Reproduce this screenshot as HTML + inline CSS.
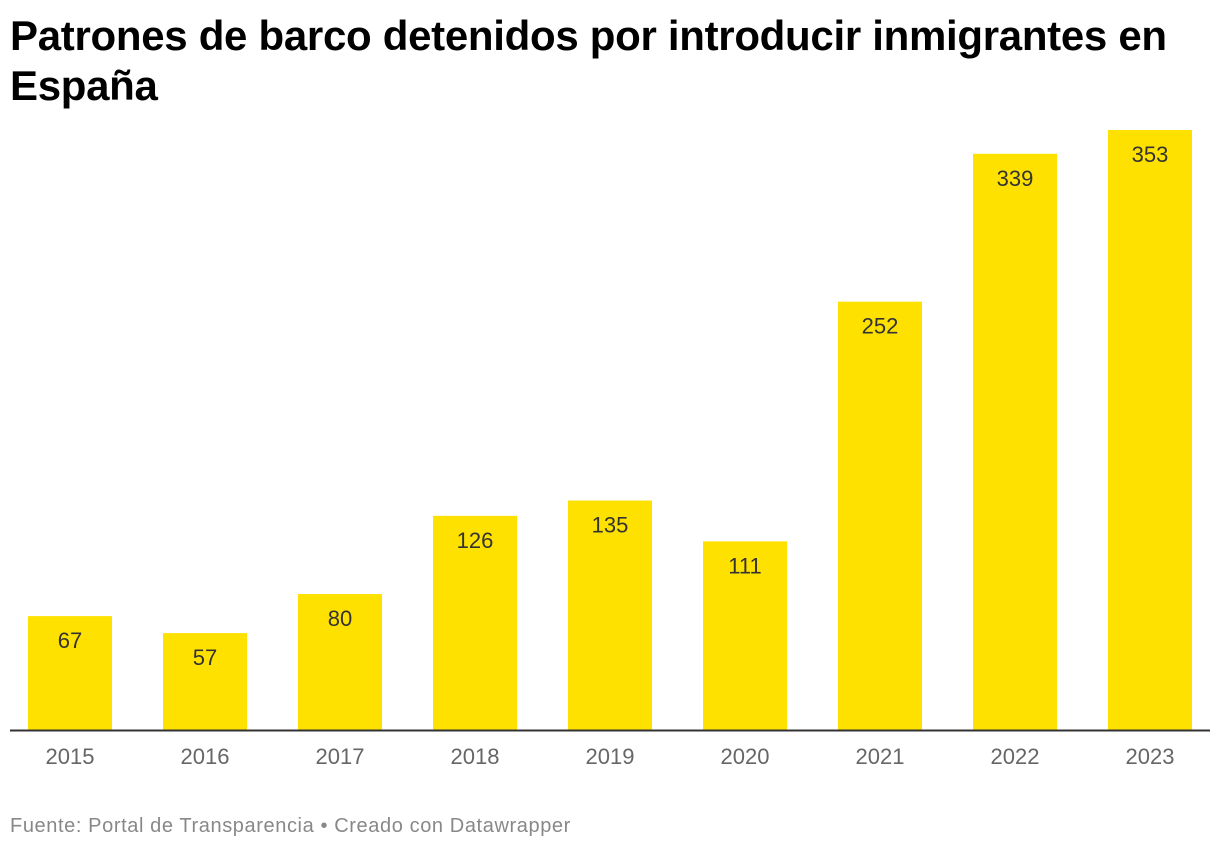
<!DOCTYPE html>
<html><head><meta charset="utf-8"><style>
body{margin:0;width:1220px;height:852px;background:#fff;font-family:"Liberation Sans",Arial,sans-serif;overflow:hidden;position:relative}
#title{position:absolute;left:10px;top:11px;font-size:42px;font-weight:bold;line-height:50px;color:#000;width:1210px;letter-spacing:-0.3px}
#footer{position:absolute;left:10px;top:815px;font-size:20px;color:#888;letter-spacing:0.6px}
svg{position:absolute;left:0;top:0}
</style></head><body>
<div id="title">Patrones de barco detenidos por introducir inmigrantes en España</div>
<svg id="chart" width="1220" height="852"></svg>
<div id="footer">Fuente: Portal de Transparencia • Creado con Datawrapper</div>
<script>
const categories=["2015","2016","2017","2018","2019","2020","2021","2022","2023"];
const values=[67,57,80,126,135,111,252,339,353];
const ns="http://www.w3.org/2000/svg";
const svg=document.getElementById('chart');
const baseY=730,maxV=353,topY=130,left=28,step=135,bw=84;
const y=v=>baseY-(v/maxV)*(baseY-topY);
const x=i=>left+i*step;
function mk(t,a){const e=document.createElementNS(ns,t);for(const k in a)e.setAttribute(k,a[k]);svg.appendChild(e);return e;}
categories.forEach((c,i)=>{
 const r=mk('rect',{x:x(i),y:y(values[i]),width:bw,height:baseY-y(values[i]),fill:'#ffe100'});
 
 
 const t=mk('text',{x:x(i)+bw/2,y:y(values[i])+32,'text-anchor':'middle','font-size':'22','fill':'#333','font-family':'Liberation Sans, sans-serif'});
 t.textContent=values[i];
 
 
 const l=mk('text',{x:x(i)+bw/2,y:764,'text-anchor':'middle','font-size':'22','fill':'#666','font-family':'Liberation Sans, sans-serif'});
 l.textContent=c;
 
 
});
const ax=mk('line',{x1:10,x2:1210,y1:baseY+0.5,y2:baseY+0.5,stroke:'#333','stroke-width':2});


</script>
</body></html>
